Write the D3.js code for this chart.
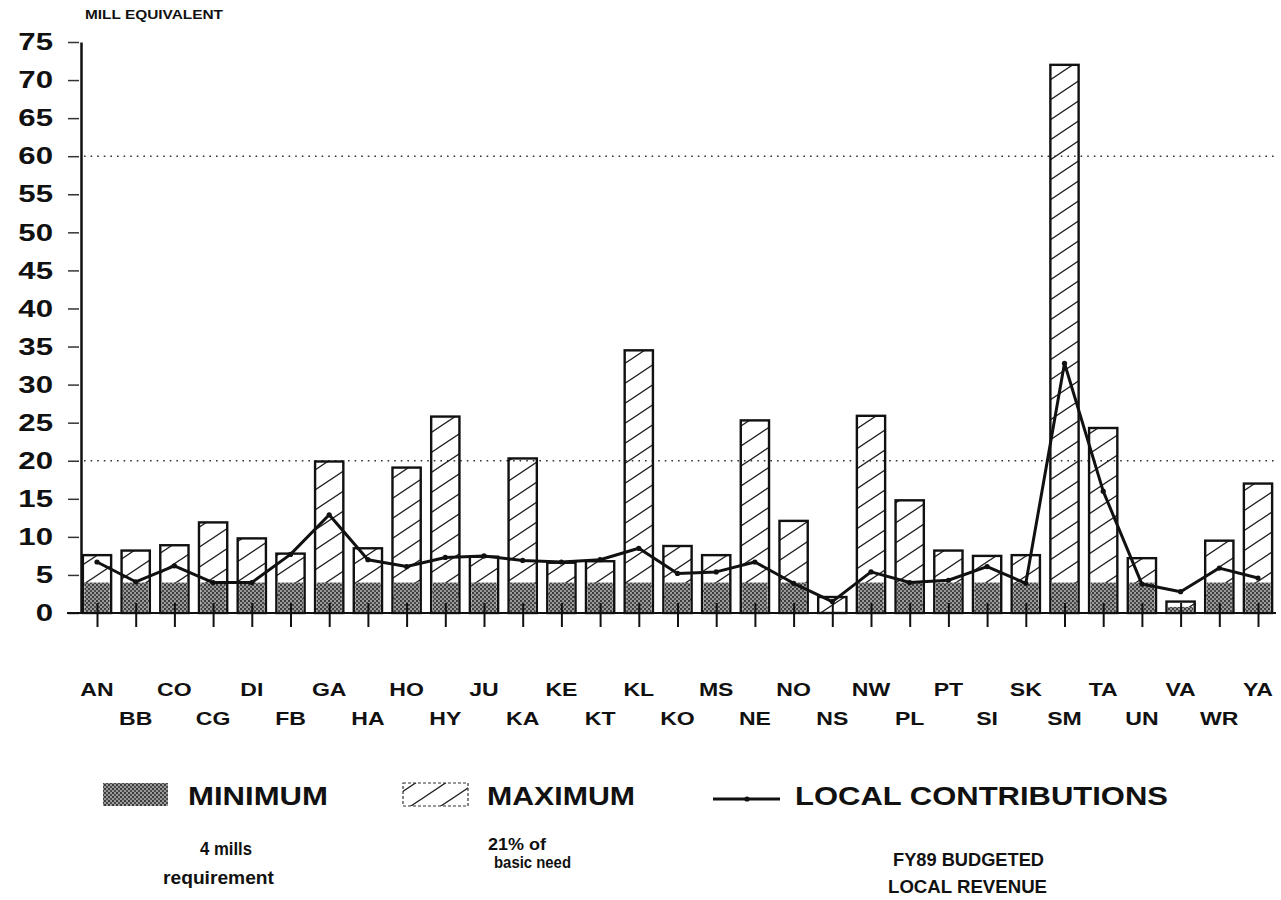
<!DOCTYPE html>
<html>
<head>
  <meta charset="utf-8">
  <title>Mill equivalent by district</title>
  <script src="https://d3js.org/d3.v7.min.js"></script>
  <style>
    body { margin: 0; background: #fff; }
    text { font-family: "Liberation Sans", Arial, sans-serif; fill: #111; }
  </style>
</head>
<body>
  <div id="chart"></div>
  <script>
    // District codes (x axis, alternating rows)
    const districts = ["AN","BB","CO","CG","DI","FB","GA","HA","HO","HY","JU","KA","KE","KT","KL",
                       "KO","MS","NE","NO","NS","NW","PL","PT","SI","SK","SM","TA","UN","VA","WR","YA"];

    // Maximum: 21% of basic need (hatched bars)
    const maximum = [7.6, 8.2, 8.9, 11.9, 9.8, 7.8, 19.9, 8.5, 19.1, 25.8, 7.4, 20.3, 6.6, 6.8, 34.5,
                     8.8, 7.6, 25.3, 12.1, 2.1, 25.9, 14.8, 8.2, 7.5, 7.6, 72.0, 24.3, 7.2, 1.5, 9.5, 17.0];

    // Minimum: 4 mills requirement (grey bars)
    const minimum = [4, 4, 4, 4, 4, 4, 4, 4, 4, 4, 4, 4, 4, 4, 4,
                     4, 4, 4, 4, 0, 4, 4, 4, 4, 4, 4, 4, 4, 0.8, 4, 4];

    // Local contributions: FY89 budgeted local revenue (line)
    const local = [6.7, 4.1, 6.2, 4.0, 4.0, 7.7, 12.9, 7.0, 6.1, 7.3, 7.5, 6.9, 6.7, 7.0, 8.5,
                   5.2, 5.4, 6.7, 3.9, 1.5, 5.4, 4.0, 4.3, 6.1, 3.9, 32.8, 16.0, 3.8, 2.8, 5.9, 4.6];

    const yTicks = d3.range(0, 80, 5);
    const gridValues = [20, 60];

    const data = districts.map((d, i) => ({code: d, max: maximum[i], min: minimum[i], local: local[i]}));

    const W = 1281, H = 900;
    const svg = d3.select("#chart").append("svg")
        .attr("width", W).attr("height", H);
    svg.append("rect").attr("width", W).attr("height", H).attr("fill", "#fff");

    // Patterns
    const defs = svg.append("defs");
    const hatch = defs.append("pattern").attr("id", "hatch")
        .attr("patternUnits", "userSpaceOnUse").attr("width", 30).attr("height", 20);
    hatch.append("path").attr("d", "M0,20 L30,0 M-3,2 L3,-2 M27,22 L33,18")
        .attr("stroke", "#222").attr("stroke-width", 1.4);

    const stip = defs.append("pattern").attr("id", "stipple")
        .attr("patternUnits", "userSpaceOnUse").attr("width", 4).attr("height", 4);
    stip.append("rect").attr("width", 4).attr("height", 4).attr("fill", "#9a9a9a");
    stip.append("rect").attr("width", 2).attr("height", 2).attr("fill", "#3c3c3c");
    stip.append("rect").attr("x", 2).attr("y", 2).attr("width", 2).attr("height", 2).attr("fill", "#4a4a4a");

    // Scales
    const x = d3.scalePoint().domain(districts).range([97, 1258]);
    const y = d3.scaleLinear().domain([0, 75]).range([613, 42]);
    const bw = x.step() * 0.73;

    // Dotted reference lines
    svg.selectAll(".grid").data(gridValues).enter().append("line")
        .attr("x1", 84).attr("x2", 1276)
        .attr("y1", d => y(d)).attr("y2", d => y(d))
        .attr("stroke", "#333").attr("stroke-width", 1.6)
        .attr("stroke-dasharray", "1.6,5");

    // Maximum bars (hatched)
    svg.selectAll(".max").data(data).enter().append("rect")
        .attr("x", d => x(d.code) - bw / 2)
        .attr("y", d => y(d.max))
        .attr("width", bw)
        .attr("height", d => y(0) - y(d.max))
        .attr("fill", "url(#hatch)")
        .attr("stroke", "#111").attr("stroke-width", 2.4);

    // Minimum bars (stippled grey)
    svg.selectAll(".min").data(data.filter(d => d.min > 0)).enter().append("rect")
        .attr("x", d => x(d.code) - bw / 2 + 1.5)
        .attr("y", d => y(d.min))
        .attr("width", bw - 3)
        .attr("height", d => y(0) - y(d.min) - 1)
        .attr("fill", "url(#stipple)");

    // Y axis
    const yAxis = svg.append("g").attr("transform", "translate(81,0)")
        .call(d3.axisLeft(y).tickValues(yTicks).tickSize(10).tickPadding(11.5).tickSizeOuter(0));
    yAxis.select(".domain").attr("stroke", "#111").attr("stroke-width", 2.5);
    yAxis.selectAll(".tick line").attr("stroke", "#333").attr("stroke-width", 1.5).attr("x2", -13).attr("x1", -2);
    yAxis.selectAll(".tick text")
        .attr("font-size", 24).attr("font-weight", "bold")
        .attr("transform", "scale(1.3,1)").attr("fill", "#111");

    // X axis baseline with ticks
    const xAxis = svg.append("g").attr("transform", `translate(0,${y(0)})`)
        .call(d3.axisBottom(x).tickSize(14).tickPadding(0).tickSizeOuter(0).tickFormat(""));
    xAxis.select(".domain").attr("d", "M67,0H1276").attr("stroke", "#111").attr("stroke-width", 2);
    xAxis.selectAll(".tick line").attr("y1", -10).attr("stroke", "#111").attr("stroke-width", 2);

    // X labels on two alternating rows
    svg.selectAll(".xlab").data(data).enter().append("text")
        .attr("transform", (d, i) => `translate(${x(d.code)},${i % 2 === 0 ? 696 : 725}) scale(1.24,1)`)
        .attr("text-anchor", "middle")
        .attr("font-size", 18.6).attr("font-weight", "bold")
        .text(d => d.code);

    // Local contributions line
    const line = d3.line().x(d => x(d.code)).y(d => y(d.local));
    svg.append("path").datum(data)
        .attr("fill", "none").attr("stroke", "#111").attr("stroke-width", 3)
        .attr("stroke-linejoin", "round")
        .attr("d", line);
    svg.selectAll(".pt").data(data).enter().append("circle")
        .attr("cx", d => x(d.code)).attr("cy", d => y(d.local)).attr("r", 2.6)
        .attr("fill", "#111");

    // Axis title
    svg.append("text").attr("x", 85).attr("y", 19)
        .attr("font-size", 12.5).attr("font-weight", "bold")
        .attr("textLength", 138).attr("lengthAdjust", "spacingAndGlyphs")
        .text("MILL EQUIVALENT");

    // Legend
    const legend = svg.append("g");
    legend.append("rect").attr("x", 103).attr("y", 783).attr("width", 65).attr("height", 23)
        .attr("fill", "url(#stipple)");
    legend.append("rect").attr("x", 403).attr("y", 783).attr("width", 65).attr("height", 23)
        .attr("fill", "url(#hatch)").attr("stroke", "#333").attr("stroke-width", 1.2)
        .attr("stroke-dasharray", "3,2");
    legend.append("line").attr("x1", 713).attr("x2", 780).attr("y1", 799).attr("y2", 799)
        .attr("stroke", "#111").attr("stroke-width", 3);
    legend.append("circle").attr("cx", 747).attr("cy", 799).attr("r", 2.6).attr("fill", "#111");

    const legendText = [
      {t: "MINIMUM", x: 188, y: 805, len: 140, size: 25},
      {t: "MAXIMUM", x: 487, y: 805, len: 148, size: 25},
      {t: "LOCAL CONTRIBUTIONS", x: 795, y: 805, len: 373, size: 25}
    ];
    legend.selectAll(".lt").data(legendText).enter().append("text")
        .attr("x", d => d.x).attr("y", d => d.y)
        .attr("font-size", d => d.size).attr("font-weight", "bold")
        .attr("textLength", d => d.len).attr("lengthAdjust", "spacingAndGlyphs")
        .text(d => d.t);

    const subText = [
      {t: "4 mills", x: 200, y: 855, len: 52, size: 18},
      {t: "requirement", x: 163, y: 884, len: 111, size: 18},
      {t: "21% of", x: 488, y: 850, len: 58, size: 16},
      {t: "basic need", x: 494, y: 868, len: 77, size: 16},
      {t: "FY89 BUDGETED", x: 893, y: 866, len: 151, size: 18},
      {t: "LOCAL REVENUE", x: 888, y: 893, len: 159, size: 18}
    ];
    legend.selectAll(".st").data(subText).enter().append("text")
        .attr("x", d => d.x).attr("y", d => d.y)
        .attr("font-size", d => d.size).attr("font-weight", "bold")
        .attr("textLength", d => d.len).attr("lengthAdjust", "spacingAndGlyphs")
        .text(d => d.t);
  </script>
</body>
</html>
